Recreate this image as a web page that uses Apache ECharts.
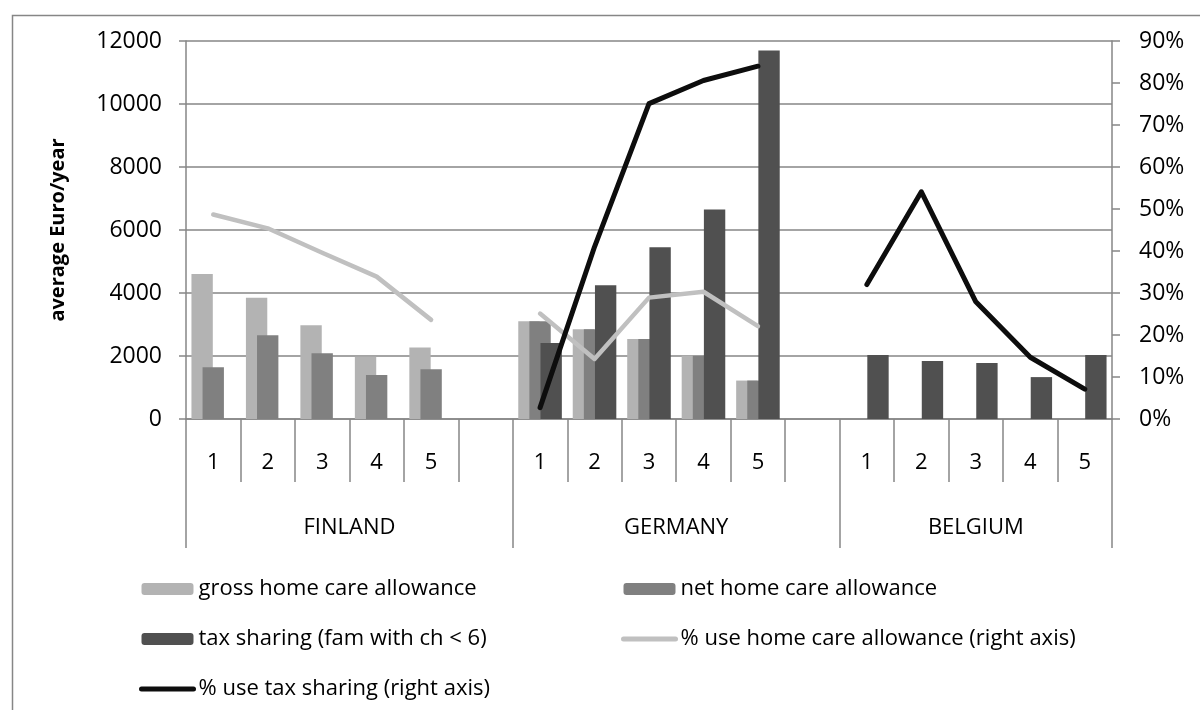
<!DOCTYPE html>
<html>
<head>
<meta charset="utf-8">
<script src="https://cdn.jsdelivr.net/npm/echarts@6/dist/echarts.min.js"></script>
<style>
html,body{margin:0;padding:0;background:#fff;}
#chart{width:1200px;height:710px;}
</style>
</head>
<body>
<div id="chart"></div>
<script>
// ---- data ----
const categories = ['1','2','3','4','5','', '1','2','3','4','5','', '1','2','3','4','5'];
const groups = ['FINLAND', 'GERMANY', 'BELGIUM'];
const groupSizes = [6, 6, 5];
const grossHCA = [4600, 3850, 2980, 1980, 2270, null, 3100, 2850, 2540, 2010, 1220, null, null, null, null, null, null];
const netHCA   = [1640, 2660, 2090, 1400, 1580, null, 3100, 2850, 2540, 2010, 1220, null, null, null, null, null, null];
const taxSharing = [null, null, null, null, null, null, 2410, 4250, 5450, 6650, 11700, null, 2030, 1840, 1780, 1330, 2030];
const useHCA = [48.7, 45.4, 39.6, 33.9, 23.6, null, 25.1, 14.3, 28.9, 30.3, 22.1, null, null, null, null, null, null];
const useTax = [null, null, null, null, null, null, 2.7, 41, 75.1, 80.6, 84.0, null, 32.0, 54.1, 27.9, 14.7, 7.1];
const leftTicks = {min: 0, max: 12000, step: 2000};
const rightTicks = {min: 0, max: 90, step: 10};

// group boundaries and centres on the category index scale
const groupBounds = [0];
groupSizes.forEach(s => groupBounds.push(groupBounds[groupBounds.length - 1] + s));
const groupCenters = groups.map((g, i) => (groupBounds[i] + groupBounds[i + 1]) / 2);

const FONT = '"Open Sans", "Noto Sans", sans-serif';
const AXIS_GRAY = '#868686';
const C_GROSS = '#b3b3b3', C_NET = '#808080', C_TAX = '#505050', C_LHCA = '#c0c0c0', C_LTAX = '#0d0d0d';

const legendText = {fontFamily: FONT, fontSize: 22, color: '#000', lineHeight: 26};
const chart = echarts.init(document.getElementById('chart'), null, {renderer: 'canvas'});
const option = {
  backgroundColor: '#fff',
  animation: false,
  textStyle: {fontFamily: FONT},
  graphic: [{
    type: 'rect', left: 10, top: 13, z: -1,
    shape: {width: 1250, height: 800},
    style: {fill: null, stroke: AXIS_GRAY, lineWidth: 1.5}
  }],
  grid: {left: 186, right: 88, top: 41, bottom: 291, containLabel: false},
  legend: [{
    orient: 'vertical', left: 134, top: 571,
    itemWidth: 52, itemHeight: 12, itemGap: 24,
    textStyle: legendText,
    data: [
      {name: 'gross home care allowance'},
      {name: 'tax sharing (fam with ch < 6)'},
      {name: '% use tax sharing (right axis)', itemStyle: {opacity: 0}, lineStyle: {width: 5, color: C_LTAX, cap: 'round'}}
    ]
  }, {
    orient: 'vertical', left: 616, top: 571,
    itemWidth: 52, itemHeight: 12, itemGap: 24,
    textStyle: legendText,
    data: [
      {name: 'net home care allowance'},
      {name: '% use home care allowance (right axis)', itemStyle: {opacity: 0}, lineStyle: {width: 5, color: C_LHCA, cap: 'round'}}
    ]
  }],
  xAxis: [{
    type: 'category', data: categories, position: 'bottom', boundaryGap: true,
    axisLine: {show: true, lineStyle: {color: AXIS_GRAY, width: 1.5}},
    axisTick: {show: true, interval: 0, length: 63, lineStyle: {color: AXIS_GRAY, width: 1.5}},
    axisLabel: {interval: 0, margin: 33, fontSize: 22, color: '#000', fontFamily: FONT},
    splitLine: {show: false}
  }, {
    type: 'value', position: 'bottom', min: groupBounds[0], max: groupBounds[groupBounds.length - 1],
    axisLine: {show: false},
    axisTick: {show: true, length: 129, customValues: groupBounds, lineStyle: {color: AXIS_GRAY, width: 1.5}},
    axisLabel: {
      show: true, margin: 98, fontSize: 22, color: '#000', fontFamily: FONT,
      customValues: groupCenters,
      formatter: v => { const i = groupCenters.indexOf(v); return i >= 0 ? groups[i] : ''; }
    },
    splitLine: {show: false}
  }],
  yAxis: [{
    type: 'value', min: leftTicks.min, max: leftTicks.max, interval: leftTicks.step,
    name: 'average Euro/year', nameLocation: 'middle', nameRotate: 90, nameGap: 118,
    nameTextStyle: {fontFamily: FONT, fontSize: 20, fontWeight: 'bold', color: '#000'},
    axisLine: {show: true, lineStyle: {color: AXIS_GRAY, width: 1.5}},
    axisTick: {show: true, length: 7, lineStyle: {color: AXIS_GRAY, width: 1.5}},
    axisLabel: {margin: 24, fontSize: 23, color: '#000', fontFamily: FONT, formatter: v => String(v)},
    splitLine: {show: true, lineStyle: {color: AXIS_GRAY, width: 1.5}}
  }, {
    type: 'value', min: rightTicks.min, max: rightTicks.max, interval: rightTicks.step, position: 'right',
    axisLine: {show: true, lineStyle: {color: AXIS_GRAY, width: 1.5}},
    axisTick: {show: true, length: 8, lineStyle: {color: AXIS_GRAY, width: 1.5}},
    axisLabel: {margin: 27, fontSize: 23, color: '#000', fontFamily: FONT, formatter: v => v + '%'},
    splitLine: {show: false}
  }],
  series: [{
    name: 'gross home care allowance', type: 'bar', xAxisIndex: 0, yAxisIndex: 0,
    data: grossHCA, barCategoryGap: '20%', barGap: '-48%',
    itemStyle: {color: C_GROSS}
  }, {
    name: 'net home care allowance', type: 'bar', xAxisIndex: 0, yAxisIndex: 0,
    data: netHCA, barCategoryGap: '20%', barGap: '-48%',
    itemStyle: {color: C_NET}
  }, {
    name: 'tax sharing (fam with ch < 6)', type: 'bar', xAxisIndex: 0, yAxisIndex: 0,
    data: taxSharing, barCategoryGap: '20%', barGap: '-48%',
    itemStyle: {color: C_TAX}
  }, {
    name: '% use home care allowance (right axis)', type: 'line', xAxisIndex: 0, yAxisIndex: 1,
    data: useHCA, symbol: 'none', connectNulls: false, z: 5,
    lineStyle: {color: C_LHCA, width: 4.5, cap: 'round', join: 'round'},
    itemStyle: {color: C_LHCA}
  }, {
    name: '% use tax sharing (right axis)', type: 'line', xAxisIndex: 0, yAxisIndex: 1,
    data: useTax, symbol: 'none', connectNulls: false, z: 6,
    lineStyle: {color: C_LTAX, width: 5, cap: 'round', join: 'round'},
    itemStyle: {color: C_LTAX}
  }]
};
chart.setOption(option);
</script>
</body>
</html>
